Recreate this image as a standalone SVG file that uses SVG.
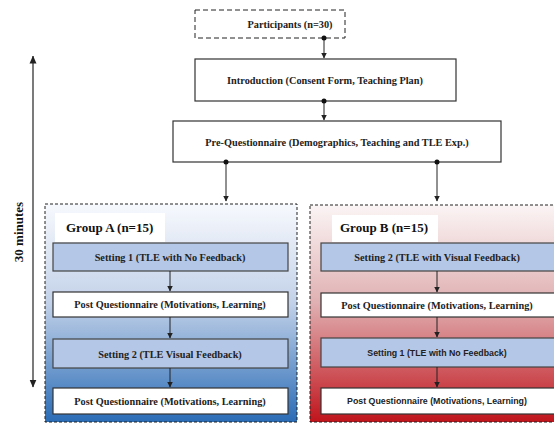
<svg xmlns="http://www.w3.org/2000/svg" width="554" height="424" viewBox="0 0 554 424">
<defs>
<linearGradient id="gA" x1="0" y1="0" x2="0" y2="1">
<stop offset="0" stop-color="#f7f9fd"/>
<stop offset="0.45" stop-color="#c3d2e9"/>
<stop offset="1" stop-color="#2a6cb6"/>
</linearGradient>
<linearGradient id="gB" x1="0" y1="0" x2="0" y2="1">
<stop offset="0" stop-color="#fbf5f5"/>
<stop offset="0.45" stop-color="#e0b0b2"/>
<stop offset="1" stop-color="#c0141c"/>
</linearGradient>
<marker id="ah" viewBox="0 0 6 6" refX="5.5" refY="3" markerWidth="6" markerHeight="6" orient="auto" markerUnits="userSpaceOnUse">
<path d="M0,0 L6,3 L0,6 z" fill="#222"/>
</marker>
<marker id="ah2" viewBox="0 0 8 8" refX="7.5" refY="4" markerWidth="8" markerHeight="8" orient="auto-start-reverse" markerUnits="userSpaceOnUse">
<path d="M0,0.5 L8,4 L0,7.5 z" fill="#222"/>
</marker>
</defs>
<style>
.box{fill:#fff;stroke:#333;stroke-width:1.2}
.set{fill:#b4c7e7;stroke:#444;stroke-width:1.2}
.grp{stroke:#222;stroke-width:1;stroke-dasharray:3,2}
.t{font-family:"Liberation Serif","Times New Roman",serif;font-weight:bold;font-size:10.3px;fill:#222;text-anchor:middle}
.ts{font-family:"Liberation Sans",Arial,sans-serif;font-weight:bold;font-size:8.8px;fill:#222;text-anchor:middle}
.g{font-family:"Liberation Serif","Times New Roman",serif;font-weight:bold;font-size:13px;fill:#111}
.c{stroke:#222;stroke-width:1;fill:none;marker-end:url(#ah)}
.dot{fill:#111}
</style>

<g id="groupA">
<rect class="grp" x="45" y="204" width="252" height="218" fill="url(#gA)"/>
<rect x="55" y="213" width="110" height="29" fill="#fff"/>
<text class="g" x="66" y="232">Group A (n=15)</text>
</g>
<g id="groupB">
<rect class="grp" x="310" y="205" width="250" height="217" fill="url(#gB)"/>
<rect x="332" y="215" width="106" height="27" fill="#fff"/>
<text class="g" x="340" y="232">Group B (n=15)</text>
</g>

<g id="participants">
<rect x="195" y="10" width="150" height="28" fill="#fff" stroke="#222" stroke-width="1" stroke-dasharray="5,3"/>
<text class="t" x="290" y="27.5">Participants (n=30)</text>
</g>
<g id="introduction">
<rect class="box" x="195" y="59" width="261" height="42"/>
<text class="t" x="325" y="83.5">Introduction (Consent Form, Teaching Plan)</text>
</g>
<g id="prequestionnaire">
<rect class="box" x="173" y="121" width="328" height="41"/>
<text class="t" x="337" y="145.5">Pre-Questionnaire (Demographics, Teaching and TLE Exp.)</text>
</g>

<g id="a1">
<rect class="set" x="53" y="243" width="235" height="28"/>
<text class="t" x="170" y="260.5">Setting 1 (TLE with No Feedback)</text>
</g>
<g id="a2">
<rect class="box" x="53" y="292" width="235" height="25"/>
<text class="t" x="170" y="308">Post Questionnaire (Motivations, Learning)</text>
</g>
<g id="a3">
<rect class="set" x="53" y="339" width="235" height="29"/>
<text class="t" x="170" y="357.5">Setting 2 (TLE Visual Feedback)</text>
</g>
<g id="a4">
<rect class="box" x="53" y="388" width="235" height="26"/>
<text class="t" x="170" y="404.5">Post Questionnaire (Motivations, Learning)</text>
</g>

<g id="b1">
<rect class="set" x="321" y="243" width="240" height="28"/>
<text class="t" x="437" y="260.5">Setting 2 (TLE with Visual Feedback)</text>
</g>
<g id="b2">
<rect class="box" x="321" y="293" width="240" height="24"/>
<text class="t" x="437" y="308.5">Post Questionnaire (Motivations, Learning)</text>
</g>
<g id="b3">
<rect class="set" x="321" y="338" width="240" height="29"/>
<text class="ts" x="437" y="356">Setting 1 (TLE with No Feedback)</text>
</g>
<g id="b4">
<rect class="box" x="321" y="388" width="240" height="26"/>
<text class="ts" x="437" y="404">Post Questionnaire (Motivations, Learning)</text>
</g>

<g id="timeline">
<line x1="33" y1="56" x2="33" y2="387" stroke="#222" stroke-width="1.2" marker-start="url(#ah2)" marker-end="url(#ah2)"/>
<text class="g" transform="translate(23,232) rotate(-90)" text-anchor="middle" font-size="12">30 minutes</text>
</g>

<g id="connectors">
<line class="c" x1="324" y1="38" x2="324" y2="58"/>
<circle class="dot" cx="324" cy="38" r="2.5"/>
<line class="c" x1="324" y1="101" x2="324" y2="120"/>
<circle class="dot" cx="324" cy="101" r="2.5"/>
<line class="c" x1="226" y1="162" x2="226" y2="201"/>
<circle class="dot" cx="226" cy="162" r="2.5"/>
<line class="c" x1="437" y1="162" x2="437" y2="201"/>
<circle class="dot" cx="437" cy="162" r="2.5"/>
<line class="c" x1="170" y1="271" x2="170" y2="291"/>
<line class="c" x1="170" y1="317" x2="170" y2="338"/>
<line class="c" x1="170" y1="368" x2="170" y2="387"/>
<line class="c" x1="437" y1="271" x2="437" y2="292"/>
<line class="c" x1="437" y1="317" x2="437" y2="337"/>
<line class="c" x1="437" y1="367" x2="437" y2="387"/>
</g>
</svg>
